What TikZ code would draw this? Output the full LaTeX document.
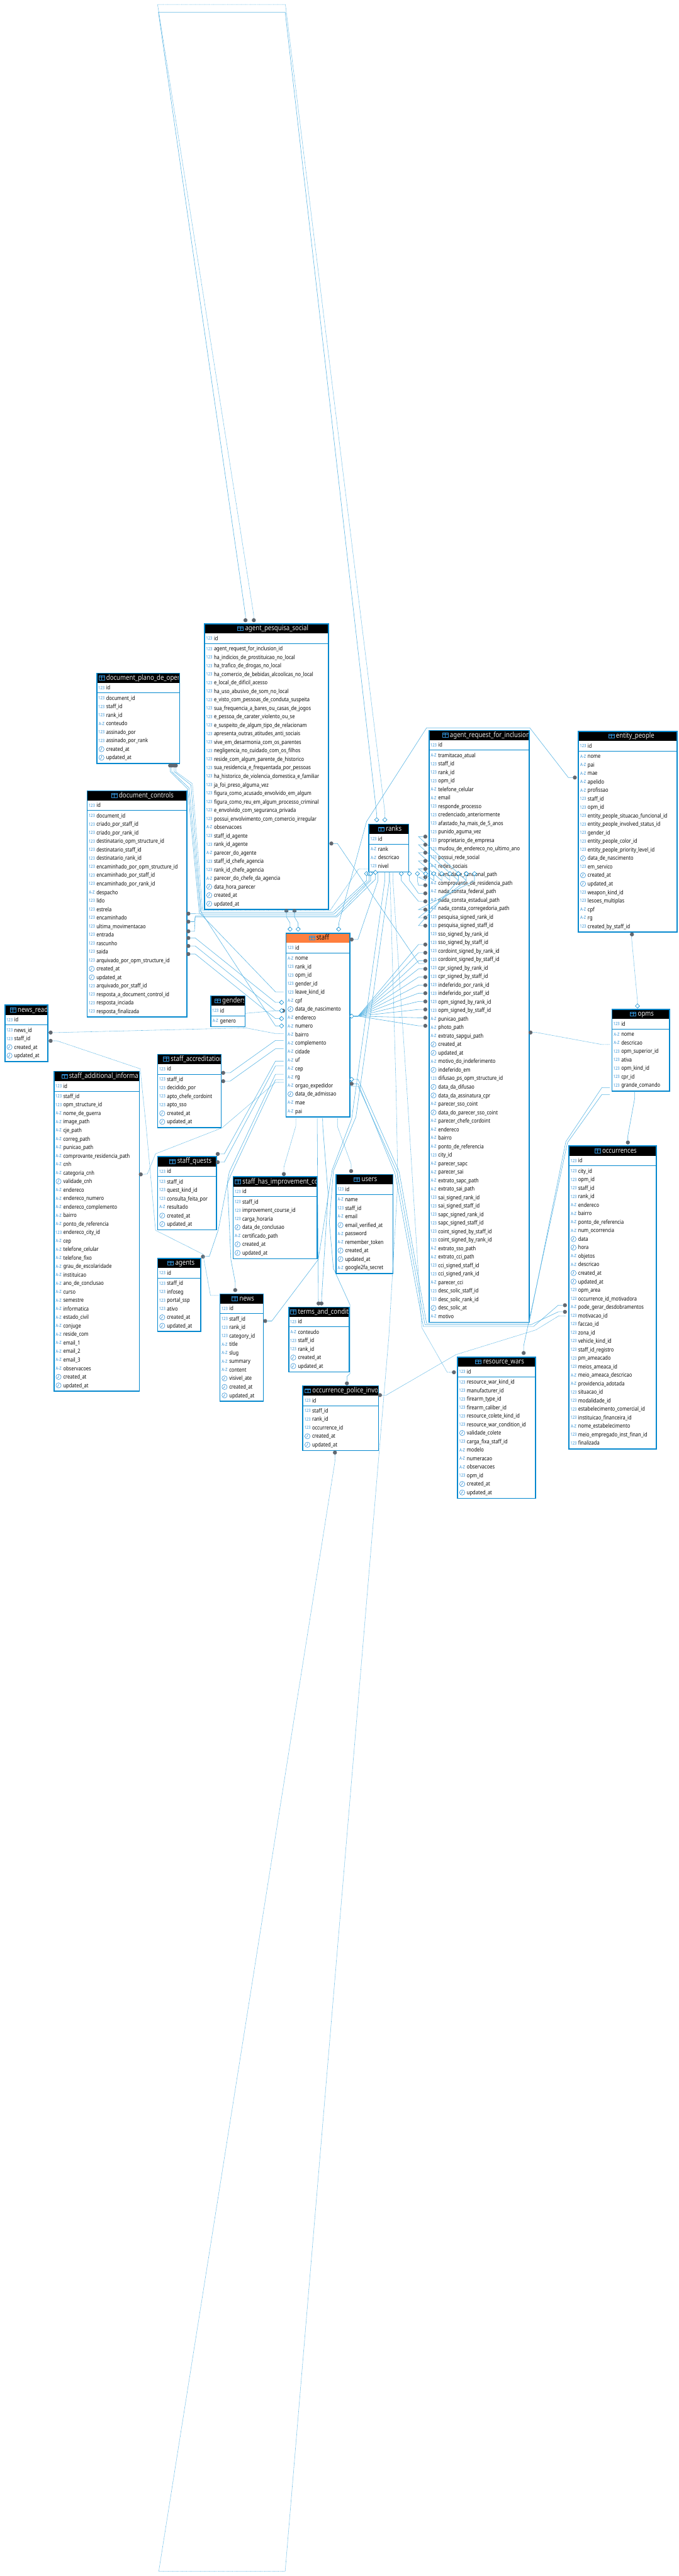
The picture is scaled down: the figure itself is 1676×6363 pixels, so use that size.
\documentclass[tikz,border=0pt]{standalone}
\usepackage{fontspec}
\setmainfont{Noto Sans}[FakeStretch=0.835]
\usepackage{tikz}
\usetikzlibrary{shapes,arrows,positioning,calc}
\definecolor{frameblue}{RGB}{4,136,206}
\definecolor{relblue}{RGB}{84,178,226}
\definecolor{typeblue}{RGB}{50,144,212}
\definecolor{dotgray}{RGB}{98,104,112}
\definecolor{titlegray}{RGB}{232,232,232}
\definecolor{rowink}{RGB}{8,8,8}
\definecolor{stafforange}{RGB}{255,127,62}
\catcode`\_=12

% icon of a column, one macro per kind (n number, s text, t time)
\newcommand{\ertypen}[3]{\node[tbltype] (#1) at (#2+4.5,#3+4) {123};}
\newcommand{\ertypes}[3]{\node[tbltype,font=\fontsize{11}{12}\selectfont\bfseries] (#1) at (#2+5.5,#3+4) {A-Z};}
\newcommand{\ertypet}[3]{\node[tblclock] (#1) at (#2+12.5,#3) {};
  \draw[iconline] (#2+13,#3-4) -- (#2+12.5,#3) -- (#2+9.5,#3+3);}

% one table: [header options]{name}{left}{top}{right}{icon x}{title}{rows}
\newcommand{\erbox}[8][]{%
  \node[tblhead,#1,minimum width=#5 pt-#3 pt,anchor=north west] (#2h) at (#3,#4) {};
  \begin{scope}
    \clip (#3,#4) rectangle (#5-1.5,#4+25);
    \draw[iconline] (#6,#4+8) rectangle (#6+14,#4+18);
    \draw[iconline] (#6,#4+11) -- (#6+14,#4+11) (#6+7,#4+8) -- (#6+7,#4+18);
    \node[tbltitle,#1] (#2t) at (#6+18.5,#4+18) {#7};
  \end{scope}
  \ertypen{#2i0}{#3}{#4+37.5}
  \node[tblrow,font=\fontsize{14}{16}\selectfont\bfseries] (#2id) at (#3+24,#4+42.5) {id};
  \draw[frameblue,line width=0.9pt] (#3,#4+50) -- (#5,#4+50);
  \foreach \rk/\rt [count=\ri from 0] in {#8} {
    \csname ertype\rk\endcsname{#2k\ri}{#3}{#4+63+21*\ri}
    \node[tblrow] (#2r\ri) at (#3+24,#4+68+21*\ri) {\rt};
    \xdef\ernrows{\ri}
  }
  \node[tblframe,minimum width=#5 pt-#3 pt,minimum height=63pt+21pt*\ernrows+13pt,anchor=north west] (#2) at (#3,#4) {};
}

\begin{document}
\begin{tikzpicture}[
  x=1pt, y=-1pt,
  tblframe/.style={rectangle, draw=frameblue, line width=2.6pt, inner sep=0pt},
  tblhead/.style={rectangle, fill=black, minimum height=25pt, inner sep=0pt},
  tbltitle/.style={anchor=base west, inner sep=0pt, text=titlegray, font=\fontsize{17.9}{20}\selectfont},
  tblrow/.style={anchor=base west, inner sep=0pt, text=rowink, font=\fontsize{14}{16}\selectfont},
  tbltype/.style={anchor=base west, inner sep=0pt, text=typeblue, font=\fontsize{11}{12}\selectfont},
  tblclock/.style={circle, draw=typeblue, line width=0.9pt, minimum size=13pt, inner sep=0pt},
  iconline/.style={draw=typeblue, line width=0.9pt},
  fkdot/.style={circle, fill=dotgray, minimum size=10pt, inner sep=0pt},
  pkdiamond/.style={diamond, draw=frameblue, fill=white, line width=0.9pt, minimum size=11pt, inner sep=0pt},
  rel/.style={draw=relblue, line width=0.9pt},
  reldot/.style={draw=relblue, line width=0.9pt, dash pattern=on 1pt off 0.8pt}
]
  \useasboundingbox (0,0) rectangle (1676,6363);

  % Left column
  \erbox{plano}{238}{1661.5}{442}{243.6}{document_plano_de_opera}{n/document_id, n/staff_id, n/rank_id, s/conteudo, n/assinado_por, n/assinado_por_rank, t/created_at, t/updated_at}
  \erbox{controls}{214}{1952}{460}{275}{document_controls}{n/document_id, n/criado_por_staff_id, n/criado_por_rank_id, n/destinatario_opm_structure_id, n/destinatario_staff_id, n/destinatario_rank_id, n/encaminhado_por_opm_structure_id, n/encaminhado_por_staff_id, n/encaminhado_por_rank_id, s/despacho, n/lido, n/estrela, n/encaminhado, n/ultima_movimentacao, n/entrada, n/rascunho, n/saida, n/arquivado_por_opm_structure_id, t/created_at, t/updated_at, n/arquivado_por_staff_id, n/resposta_a_document_control_id, n/resposta_inciada, n/resposta_finalizada}
  \erbox{newsread}{11}{2481.5}{117}{25}{news_read}{n/news_id, n/staff_id, t/created_at, t/updated_at}
  \erbox{addinfo}{132}{2645}{343}{152}{staff_additional_informat}{n/staff_id, n/opm_structure_id, s/nome_de_guerra, s/image_path, s/cje_path, s/correg_path, s/punicao_path, s/comprovante_residencia_path, s/cnh, s/categoria_cnh, t/validade_cnh, s/endereco, s/endereco_numero, s/endereco_complemento, s/bairro, s/ponto_de_referencia, n/endereco_city_id, s/cep, s/telefone_celular, s/telefone_fixo, s/grau_de_escolaridade, s/instituicao, s/ano_de_conclusao, s/curso, s/semestre, s/informatica, s/estado_civil, s/conjuge, s/reside_com, s/email_1, s/email_2, s/email_3, s/observacoes, t/created_at, t/updated_at}

  % Middle column
  \erbox{pesquisa}{504}{1539.4}{810}{586.5}{agent_pesquisa_social}{n/agent_request_for_inclusion_id, n/ha_indicios_de_prostituicao_no_local, n/ha_trafico_de_drogas_no_local, n/ha_comercio_de_bebidas_alcoolicas_no_local, n/e_local_de_dificil_acesso, n/ha_uso_abusivo_de_som_no_local, n/e_visto_com_pessoas_de_conduta_suspeita, n/sua_frequencia_a_bares_ou_casas_de_jogos, n/e_pessoa_de_carater_violento_ou_se, n/e_suspeito_de_algum_tipo_de_relacionam, n/apresenta_outras_atitudes_anti_sociais, n/vive_em_desarmonia_com_os_parentes, n/negligencia_no_cuidado_com_os_filhos, n/reside_com_algum_parente_de_historico, n/sua_residencia_e_frequentada_por_pessoas, n/ha_historico_de_violencia_domestica_e_familiar, n/ja_foi_preso_alguma_vez, n/figura_como_acusado_envolvido_em_algum, n/figura_como_reu_em_algum_processo_criminal, n/e_envolvido_com_seguranca_privada, n/possui_envolvimento_com_comercio_irregular, s/observacoes, n/staff_id_agente, n/rank_id_agente, s/parecer_do_agente, n/staff_id_chefe_agencia, n/rank_id_chefe_agencia, s/parecer_do_chefe_da_agencia, t/data_hora_parecer, t/created_at, t/updated_at}
  \erbox{genders}{519}{2458.7}{603.6}{530}{genders}{s/genero}
  \erbox{accred}{388}{2603}{544.6}{403}{staff_accreditation}{n/staff_id, n/decidido_por, n/apto_chefe_cordoint, n/apto_sso, t/created_at, t/updated_at}
  \erbox{quests}{388}{2855.7}{533}{419}{staff_quests}{n/staff_id, n/quest_kind_id, n/consulta_feita_por, s/resultado, t/created_at, t/updated_at}
  \erbox{agents}{388}{3106.8}{494.6}{414}{agents}{n/staff_id, n/infoseg, n/portal_ssp, n/ativo, t/created_at, t/updated_at}
  \erbox{news}{541.8}{3194.8}{649}{572.5}{news}{n/staff_id, n/rank_id, n/category_id, s/title, s/slug, s/summary, s/content, t/visivel_ate, t/created_at, t/updated_at}
  \erbox{improve}{574}{2905.7}{782}{580}{staff_has_improvement_co}{n/staff_id, n/improvement_course_id, n/carga_horaria, t/data_de_conclusao, s/certificado_path, t/created_at, t/updated_at}
  \erbox[fill=stafforange,text=rowink]{staff}{704.6}{2303.6}{862.5}{762.5}{staff}{s/nome, n/rank_id, n/opm_id, n/gender_id, n/leave_kind_id, s/cpf, t/data_de_nascimento, s/endereco, s/numero, s/bairro, s/complemento, s/cidade, s/uf, s/cep, s/rg, s/orgao_expedidor, t/data_de_admissao, s/mae, s/pai}
  \erbox{ranks}{909.3}{2034.5}{1007.7}{934}{ranks}{s/rank, s/descricao, n/nivel}
  \erbox{users}{828}{2900}{968.6}{874}{users}{s/name, n/staff_id, s/email, t/email_verified_at, s/password, s/remember_token, t/created_at, t/updated_at, s/google2fa_secret}
  \erbox{terms}{711.4}{3227.3}{860.7}{717}{terms_and_conditi}{s/conteudo, n/staff_id, n/rank_id, t/created_at, t/updated_at}
  \erbox{policeinv}{746.4}{3421.7}{932.9}{752.5}{occurrence_police_invol}{n/staff_id, n/rank_id, n/occurrence_id, t/created_at, t/updated_at}

  % Right column
  \erbox{request}{1057.7}{1802.8}{1304.9}{1092}{agent_request_for_inclusions}{s/tramitacao_atual, n/staff_id, n/rank_id, n/opm_id, s/telefone_celular, s/email, n/responde_processo, n/credenciado_anteriormente, n/afastado_ha_mais_de_5_anos, n/punido_aguma_vez, n/proprietario_de_empresa, n/mudou_de_endereco_no_ultimo_ano, n/possui_rede_social, s/redes_sociais, s/identidade_funcional_path, s/comprovante_de_residencia_path, s/nada_consta_federal_path, s/nada_consta_estadual_path, s/nada_consta_corregedoria_path, n/pesquisa_signed_rank_id, n/pesquisa_signed_staff_id, n/sso_signed_by_rank_id, n/sso_signed_by_staff_id, n/cordoint_signed_by_rank_id, n/cordoint_signed_by_staff_id, n/cpr_signed_by_rank_id, n/cpr_signed_by_staff_id, n/indeferido_por_rank_id, n/indeferido_por_staff_id, n/opm_signed_by_rank_id, n/opm_signed_by_staff_id, s/punicao_path, s/photo_path, s/extrato_sapgui_path, t/created_at, t/updated_at, s/motivo_do_indeferimento, t/indeferido_em, n/difusao_ps_opm_structure_id, t/data_da_difusao, t/data_da_assinatura_cpr, s/parecer_sso_coint, t/data_do_parecer_sso_coint, s/parecer_chefe_cordoint, s/endereco, s/bairro, s/ponto_de_referencia, n/city_id, s/parecer_sapc, s/parecer_sai, s/extrato_sapc_path, s/extrato_sai_path, n/sai_signed_rank_id, n/sai_signed_staff_id, n/sapc_signed_rank_id, n/sapc_signed_staff_id, n/coint_signed_by_staff_id, n/coint_signed_by_rank_id, s/extrato_sso_path, s/extrato_cci_path, n/cci_signed_staff_id, n/cci_signed_rank_id, s/parecer_cci, n/desc_solic_staff_id, n/desc_solic_rank_id, t/desc_solic_at, s/motivo}
  \erbox{entity}{1426.7}{1805}{1670}{1502}{entity_people}{s/nome, s/pai, s/mae, s/apelido, s/profissao, n/staff_id, n/opm_id, n/entity_people_situacao_funcional_id, n/entity_people_involved_status_id, n/gender_id, n/entity_people_color_id, n/entity_people_priority_level_id, t/data_de_nascimento, n/em_servico, t/created_at, t/updated_at, n/weapon_kind_id, n/lesoes_multiplas, s/cpf, s/rg, n/created_by_staff_id}
  \erbox{opms}{1509.5}{2491.6}{1651.8}{1556}{opms}{s/nome, s/descricao, n/opm_superior_id, n/ativa, n/opm_kind_id, n/cpr_id, n/grande_comando}
  \erbox{occur}{1403.3}{2829.6}{1619}{1468}{occurrences}{n/city_id, n/opm_id, n/staff_id, n/rank_id, s/endereco, s/bairro, s/ponto_de_referencia, s/num_ocorrencia, t/data, t/hora, s/objetos, s/descricao, t/created_at, t/updated_at, n/opm_area, n/occurrence_id_motivadora, s/pode_gerar_desdobramentos, n/motivacao_id, n/faccao_id, n/zona_id, n/vehicle_kind_id, n/staff_id_registro, n/pm_ameacado, n/meios_ameaca_id, s/meio_ameaca_descricao, s/providencia_adotada, n/situacao_id, n/modalidade_id, n/estabelecimento_comercial_id, n/instituicao_financeira_id, s/nome_estabelecimento, n/meio_empregado_inst_finan_id, n/finalizada}
  \erbox{wars}{1128.4}{3350.6}{1321}{1174}{resource_wars}{n/resource_war_kind_id, n/manufacturer_id, n/firearm_type_id, n/firearm_caliber_id, n/resource_colete_kind_id, n/resource_war_condition_id, t/validade_colete, n/carga_fixa_staff_id, s/modelo, s/numeracao, s/observacoes, n/opm_id, t/created_at, t/updated_at}

  % Dots
  \node[fkdot] (pl1) at (420,1891) {};
  \node[fkdot] (pl2) at (424,1891) {};
  \node[fkdot] (pl3) at (430,1891) {};
  \node[fkdot] (pl4) at (434,1891) {};
  \node[fkdot] (dc1) at (465,2256.8) {};
  \node[fkdot] (dc2) at (465,2276.6) {};
  \node[fkdot] (dc3) at (465,2300.4) {};
  \node[fkdot] (dc4) at (465,2316.9) {};
  \node[fkdot] (dc5) at (465,2336.7) {};
  \node[fkdot] (dc6) at (465,2356.6) {};
  \node[fkdot] (nr1) at (125,2550.5) {};
  \node[fkdot] (nr2) at (125,2571) {};
  \node[fkdot] (ai1) at (347.5,2900.8) {};
  \node[fkdot] (ac1) at (551,2650) {};
  \node[fkdot] (ac2) at (551,2670.6) {};
  \node[fkdot] (qu1) at (537.5,2850.4) {};
  \node[fkdot] (qu2) at (537.5,2870.7) {};
  \node[fkdot] (ag1) at (501,3104) {};
  \node[fkdot] (ne1) at (580.7,3186.6) {};
  \node[fkdot] (ne2) at (654.6,3263) {};
  \node[fkdot] (im1) at (700.7,2900) {};
  \node[fkdot] (us1) at (866.8,2892.6) {};
  \node[fkdot] (te1) at (786.4,3219.6) {};
  \node[fkdot] (te2) at (793.6,3219.6) {};
  \node[fkdot] (po1) at (856.4,3417) {};
  \node[fkdot] (po2) at (938,3446) {};
  \node[fkdot] (po3) at (826.8,3588) {};
  \node[fkdot] (rw1) at (1292.7,3342) {};
  \node[fkdot] (rw2) at (1120.5,3389.6) {};
  \node[fkdot] (oc1) at (1394.6,3224) {};
  \node[fkdot] (oc2) at (1394.6,3240.4) {};
  \node[fkdot] (oc3) at (1550,2822) {};
  \node[fkdot] (ep1) at (1419,1920.6) {};
  \node[fkdot] (ep2) at (1560,2308) {};
  \node[fkdot] (rq1) at (1309.6,2550.4) {};
  \node[fkdot] (ps1) at (606,1532) {};
  \node[fkdot] (ps2) at (626.6,1532) {};
  \node[fkdot] (ps3) at (707,2250) {};
  \node[fkdot] (ps4) at (727,2250) {};
  \node[fkdot] (ps5) at (818,2083.5) {};
  \node[fkdot] (sr3) at (868,2320.6) {};
  \node[fkdot] (sr4) at (868,2677) {};
  \node[fkdot] (sl5) at (699,2496.5) {};

  % Diamonds
  \node[pkdiamond] (rk1) at (930,2025) {};
  \node[pkdiamond] (rk2) at (950,2025) {};
  \node[pkdiamond] (rk3) at (905,2158) {};
  \node[pkdiamond] (rk4) at (911,2158) {};
  \node[pkdiamond] (rk5) at (915,2158) {};
  \node[pkdiamond] (rk6) at (926.7,2155) {};
  \node[pkdiamond] (st1) at (716,2295) {};
  \node[pkdiamond] (st2) at (736,2295) {};
  \node[pkdiamond] (st3) at (836,2295) {};
  \node[pkdiamond] (sl1) at (695,2476) {};
  \node[pkdiamond] (sl2) at (695,2496.5) {};
  \node[pkdiamond] (sl3) at (695,2516) {};
  \node[pkdiamond] (sl4) at (695,2534) {};
  \node[pkdiamond] (sr1) at (868,2510) {};
  \node[pkdiamond] (sr2) at (868,2666) {};
  \node[pkdiamond] (op1) at (1573.7,2485) {};

  % Free ends of the connectors
  \coordinate (sf1) at (700,2450);
  \coordinate (sf2) at (700,2553);
  \coordinate (sf3) at (700,2570);
  \coordinate (sf4) at (700,2590.6);
  \coordinate (sf5) at (700,2621);
  \coordinate (sf6) at (700,2633);
  \coordinate (sf7) at (700,2653.6);
  \coordinate (sf8) at (700,2667);
  \coordinate (sf9) at (700,2673.5);
  \coordinate (sb1) at (730.4,2762);
  \coordinate (sb2) at (783,2762);
  \coordinate (sb3) at (796.4,2762);
  \coordinate (sb4) at (833,2762);
  \coordinate (sr5) at (864,2683);
  \coordinate (rb1) at (933,2154);
  \coordinate (rb2) at (950,2154);
  \coordinate (rb3) at (961,2154);
  \coordinate (rb4) at (963,2154);
  \coordinate (rb5) at (970,2154);
  \coordinate (rl1) at (908,2146.7);
  \coordinate (gn1) at (606.4,2503);
  \coordinate (rq2) at (1050,2380);
  \coordinate (op2) at (1506.5,2580);
  \coordinate (op3) at (1505,2686.6);
  \coordinate (op4) at (1505,2703.6);
  \coordinate (op5) at (1566.8,2696);
  \coordinate (oc4) at (1397,3250.5);

  % Loop over the top
  \draw[rel] (ps1) -- (606,1520) -- (391,30) -- (704,30) -- (928,1994) -- (930,2012) -- (rk1);
  \draw[reldot] (ps2) -- (626,1517) -- (389,11) -- (704.5,11) -- (950,2005) -- (rk2);

  % Loop under the bottom
  \draw[reldot] (po3) -- (826.8,3610) -- (392,6351) -- (704,6351) -- (960,3300) -- (982,2920) -- (978,2700) -- (963,2175) -- (rb4);

  % document_plano to staff and ranks
  \draw[rel] (pl1) -- (420,1906) -- (463.6,1949) -- (492,2254) -- (680,2450) -- (sf1);
  \draw[rel] (pl2) -- (424,1906) -- (467,1946.6) -- (494.6,2250) -- (680,2534) -- (sl4);
  \draw[rel] (pl3) -- (430,1906) -- (471.4,1939) -- (497,2253) -- (822.7,2253) -- (905,2175) -- (rk3);
  \draw[reldot] (pl4) -- (434,1906) -- (475,1936) -- (500,2248.8) -- (815,2248.8) -- (885,2146.7) -- (rl1);

  % document_controls to ranks and staff
  \draw[rel] (dc1) -- (482,2256.8) -- (500,2257.5) -- (825,2257.5) -- (911,2175) -- (rk4);
  \draw[rel] (dc2) -- (480,2276.6) -- (482,2263) -- (829,2263) -- (915,2175) -- (rk5);
  \draw[rel] (dc3) -- (480,2300.4) -- (482,2265) -- (831.7,2265) -- (926.7,2172) -- (rk6);
  \draw[rel] (dc4) -- (482,2316.9) -- (680,2476) -- (sl1);
  \draw[rel] (dc5) -- (482,2336.7) -- (680,2496.5) -- (sl2);
  \draw[rel] (dc6) -- (482,2356.6) -- (680,2516) -- (sl3);

  % Into staff from the left
  \draw[reldot] (gn1) -- (680,2496.5) -- (sl5);
  \draw[reldot] (nr1) -- (141,2550.5) -- (607,2539) -- (680,2553) -- (sf2);
  \draw[rel] (ac1) -- (568,2650) -- (680,2570) -- (sf3);
  \draw[rel] (ac2) -- (568,2670.6) -- (680,2590.6) -- (sf4);
  \draw[rel] (qu1) -- (553.6,2850.4) -- (680,2621) -- (sf5);
  \draw[rel] (qu2) -- (553.6,2870.7) -- (680,2633) -- (sf6);
  \draw[rel] (ne1) -- (580.7,3167) -- (570,3111.5) -- (561.4,2920) -- (566,2895) -- (680,2653.6) -- (sf7);
  \draw[rel] (ag1) -- (516.8,3103) -- (539,3037.5) -- (560,2928.4) -- (570.7,2900) -- (680,2667) -- (sf8);
  \draw[reldot] (ai1) -- (363.6,2900) -- (384,2850) -- (548,2786) -- (680,2673.5) -- (sf9);
  \draw[reldot] (nr2) -- (141,2571) -- (346,2640) -- (361,2785) -- (384,3039) -- (501,3098) -- (519.6,3200) -- (541,3200);

  % Staff top and bottom
  \draw[rel] (ps3) -- (707,2265) -- (716,2280) -- (st1);
  \draw[rel] (ps4) -- (727,2265) -- (736,2280) -- (st2);
  \draw[reldot] (sb1) -- (730.4,2781) -- (700.7,2883) -- (im1);
  \draw[rel] (sb2) -- (786,3211) -- (te1);
  \draw[rel] (sb3) -- (797,2785) -- (810,2950) -- (794,3205) -- (te2);
  \draw[reldot] (sb4) -- (833,2782.5) -- (866.8,2875.6) -- (us1);
  \draw[rel] (sr3) -- (883.5,2320.6) -- (933,2175) -- (rb1);

  % entity_people and opms
  \draw[rel] (ep1) -- (1403,1920.6) -- (1308,1798) -- (1053,1798) -- (905,2029) -- (836.7,2279) -- (st3);
  \draw[reldot] (ep2) -- (1559,2315.6) -- (1573.7,2473) -- (op1);
  \draw[reldot] (rq1) -- (1325,2550.4) -- (1485.7,2580) -- (op2);
  \draw[rel] (op5) -- (1566.8,2713) -- (1550,2805) -- (oc3);

  % Ranks to the lower tables
  \draw[rel] (rb2) -- (950,2175) -- (868,2764) -- (820,2890) -- (800,3020) -- (785.7,3111) -- (671,3263) -- (ne2);
  \draw[rel] (rb3) -- (961,2175) -- (878.6,2759) -- (823,2892) -- (813,3020) -- (823,3133) -- (864,3223) -- (864,3393) -- (856.4,3400) -- (po1);
  \draw[reldot] (rb5) -- (970,2175) -- (1005,2700) -- (1041,3279) -- (1104,3389.6) -- (rw2);

  % Round the bottom of the request table
  \draw[rel] (op3) -- (1485.7,2686.6) -- (1396.8,2820) -- (1306,3268.6) -- (1053,3268.6) -- (985,2893) -- (884,2666) -- (sr2);
  \draw[rel] (oc2) -- (1378,3240.4) -- (1311,3272) -- (1049,3272) -- (980,2895) -- (884,2683) -- (sr5);
  \draw[rel] (oc1) -- (1378,3224) -- (1317,3276.5) -- (1045,3276.5) -- (975,2898) -- (884,2677) -- (sr4);
  \draw[rel] (op4) -- (1485.7,2703.6) -- (1401,2822) -- (1292.7,3324) -- (rw1);
  \draw[reldot] (po2) -- (953.6,3446) -- (1125.8,3346) -- (1323,3285) -- (1379,3250.5) -- (oc4);

  % pesquisa to request
  \draw[rel] (ps5) -- (833,2083.5) -- (1034,2380) -- (rq2);

  % Request dots to ranks
  \foreach \yy/\xx [count=\nn] in {2066.5/1151, 2086.4/1131.4, 2106.2/1110.6, 2126.6/1090.6, 2146.5/1070.7, 2166.8/1050.7, 2186.7/1030.4, 2206.6/1010.8, 2226.4/990.7, 2246.8/1171.3, 2266.7/1151, 2286.5/1131.4} {
    \node[fkdot] (ru\nn) at (1050,\yy) {};
    \node[pkdiamond] (rd\nn) at (\xx,2158) {};
    \draw[rel] (ru\nn) -- (1033,\yy) -- (\xx,2175) -- (rd\nn);
  }

  % Request dots to staff
  \foreach \yy [count=\nn] in {2333,2353.4,2373.3,2393.2,2413.6,2433.4,2453.3,2473.7,2493.5,2513.9,2533.8} {
    \node[fkdot] (rs\nn) at (1050,\yy) {};
    \draw[rel] (sr1) -- (884,2510) -- (1033,\yy) -- (rs\nn);
  }
\end{tikzpicture}
\end{document}
